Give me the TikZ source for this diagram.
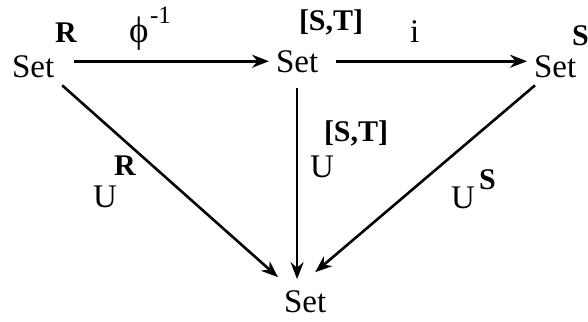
\documentclass[tikz,border=0pt]{standalone}
\usepackage{fontspec}
\setmainfont{Liberation Serif}
\usetikzlibrary{arrows.meta}
\tikzset{
	obj/.style={inner sep=0pt,outer sep=0pt,anchor=base west,font=\fontsize{16.5}{19}\selectfont},
	lbl/.style={obj},
	bld/.style={obj,font=\fontsize{15}{18}\selectfont\bfseries},
	arr/.style={-{Stealth[length=8.5pt,width=6.5pt]},line width=1.3pt}
}

\begin{document}
\begin{tikzpicture}[x=0.5pt,y=-0.5pt]
	\useasboundingbox (0,0) rectangle (588,321);
	\node[obj] (setR) at (12,77) {Set};
	\node[obj] (setST) at (276,72) {Set};
	\node[obj] (setS) at (534,77) {Set};
	\node[obj] (setbot) at (284,312) {Set};
	\node[bld] (supR) at (55,42) {R};
	\node[bld] (supST) at (299,30) {[S,T]};
	\node[bld] (supS) at (572,45) {S};
	\node[lbl,font=\fontsize{18.5}{21}\selectfont] (phi) at (129,42) {ϕ};
	\node[lbl,font=\fontsize{12.5}{15}\selectfont] (phiexp) at (150,24) {-1};
	\node[lbl] (incl) at (410,42) {i};
	\node[lbl] (uR) at (93,207) {U};
	\node[bld] (uRsup) at (114,175) {R};
	\node[lbl] (uST) at (310,177) {U};
	\node[bld] (uSTsup) at (324,141) {[S,T]};
	\node[lbl] (uS) at (451,208) {U};
	\node[bld] (uSsup) at (479,189) {S};
	\draw[arr,shorten <=10pt,shorten >=3.5pt] (setR.east |- setST.west) -- (setST.west);
	\draw[arr,shorten <=9pt,shorten >=3.5pt] (setST.east) -- (setST.east -| setS.west);
	\draw[arr] ([shift={(8,8)}]setR.south east) -- ([shift={(-6,-13)}]setbot.north west);
	\draw[arr,shorten <=8pt,shorten >=5.5pt] (setST.south) -- (setST.south |- setbot.north);
	\draw[arr] ([shift={(1,8)}]setS.south west) -- ([shift={(-11,-18)}]setbot.north east);
\end{tikzpicture}
\end{document}
